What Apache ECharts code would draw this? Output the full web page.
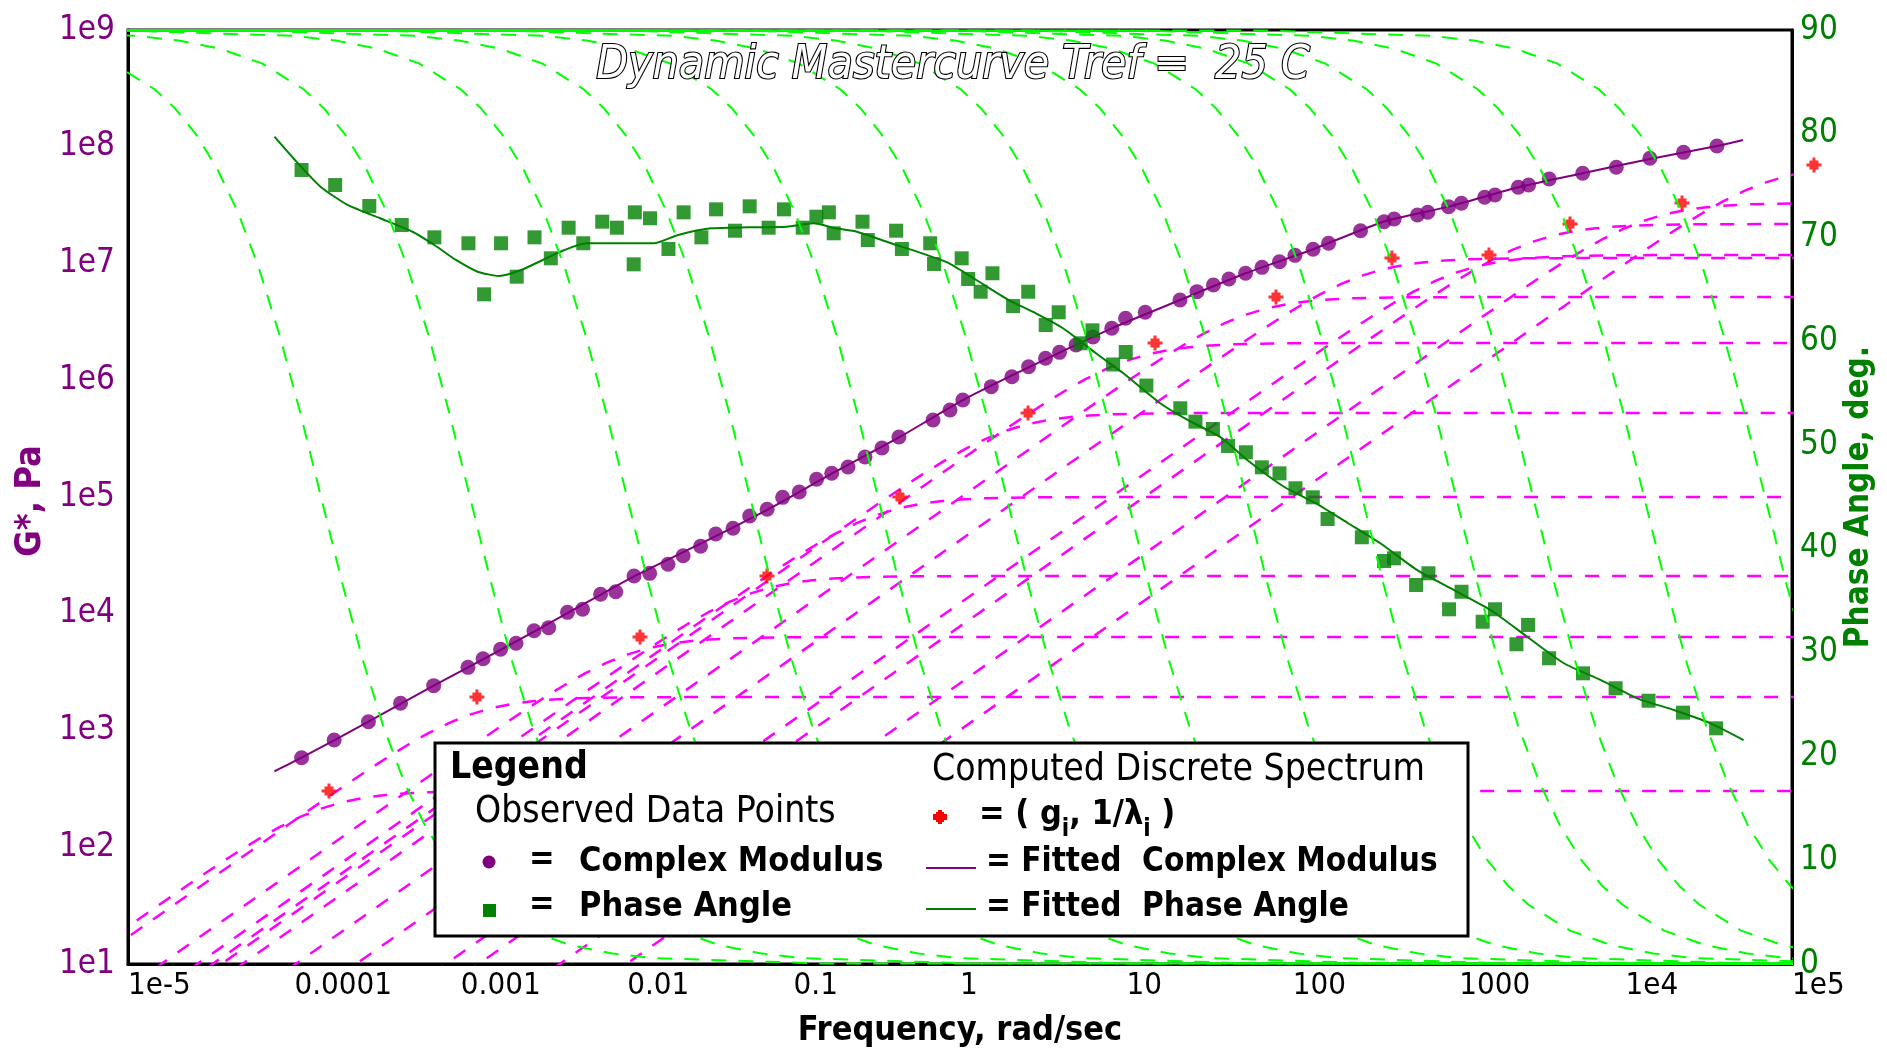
<!DOCTYPE html>
<html>
<head>
<meta charset="utf-8">
<script src="https://cdn.jsdelivr.net/npm/echarts@6/dist/echarts.min.js"></script>
<style>
  html, body { margin: 0; padding: 0; background: #fff; }
  #chart { width: 1887px; height: 1050px; }
</style>
</head>
<body>
<div id="chart"></div>
<script>
const FONT = "'Liberation Sans Narrow','DejaVu Sans Condensed','Arial Narrow','Liberation Sans',sans-serif";

// Axis tick labels
const freqTickLabels = ['1e-5', '0.0001', '0.001', '0.01', '0.1', '1', '10', '100', '1000', '1e4', '1e5'];
const modulusTickLabels = ['1e1', '1e2', '1e3', '1e4', '1e5', '1e6', '1e7', '1e8', '1e9'];

// Observed complex modulus G* (log10 frequency in rad/sec, log10 G* in Pa)
const modulusLogFreq = [-3.957, -3.761, -3.555, -3.362, -3.163, -2.957, -2.866, -2.761, -2.668, -2.560,
  -2.472, -2.359, -2.268, -2.160, -2.069, -1.959, -1.865, -1.755, -1.664, -1.559,
  -1.468, -1.364, -1.264, -1.159, -1.066, -0.966, -0.862, -0.771, -0.673, -0.571,
  -0.469, -0.367, -0.162, -0.060, 0.017, 0.188, 0.312, 0.412, 0.514, 0.598,
  0.697, 0.799, 0.912, 0.995, 1.113, 1.322, 1.424, 1.523, 1.616, 1.716,
  1.815, 1.920, 2.013, 2.122, 2.215, 2.407, 2.548, 2.609, 2.749, 2.811,
  2.936, 3.013, 3.153, 3.215, 3.355, 3.417, 3.541, 3.742, 3.944, 4.146,
  4.348, 4.549];
const modulusLogG = [2.767, 2.919, 3.075, 3.233, 3.384, 3.541, 3.615, 3.696, 3.747, 3.855,
  3.881, 4.012, 4.038, 4.167, 4.189, 4.323, 4.346, 4.424, 4.497, 4.578,
  4.683, 4.732, 4.837, 4.895, 4.997, 5.043, 5.152, 5.203, 5.257, 5.343,
  5.420, 5.514, 5.660, 5.745, 5.831, 5.945, 6.030, 6.116, 6.188, 6.239,
  6.302, 6.371, 6.445, 6.531, 6.582, 6.687, 6.759, 6.816, 6.867, 6.916,
  6.967, 7.015, 7.070, 7.122, 7.173, 7.281, 7.358, 7.381, 7.415, 7.439,
  7.487, 7.516, 7.567, 7.587, 7.653, 7.672, 7.724, 7.773, 7.824, 7.901,
  7.952, 8.006];

// Observed phase angle (log10 frequency, degrees)
const phaseLogFreq = [-3.957, -3.755, -3.550, -3.355, -3.159, -2.954, -2.860, -2.758, -2.664, -2.557,
  -2.459, -2.352, -2.264, -2.150, -2.062, -1.961, -1.954, -1.863, -1.752, -1.661,
  -1.554, -1.466, -1.352, -1.264, -1.150, -1.058, -0.945, -0.863, -0.788, -0.759,
  -0.586, -0.554, -0.384, -0.349, -0.179, -0.156, 0.010, 0.049, 0.124, 0.195,
  0.319, 0.410, 0.515, 0.593, 0.725, 0.796, 0.920, 0.996, 1.120, 1.324,
  1.415, 1.520, 1.611, 1.718, 1.814, 1.920, 2.016, 2.120, 2.209, 2.415,
  2.548, 2.608, 2.741, 2.815, 2.939, 3.014, 3.141, 3.215, 3.344, 3.414,
  3.540, 3.744, 3.940, 4.138, 4.345, 4.544];
const phaseDeg = [76.51, 75.06, 73.04, 71.21, 70.02, 69.45, 64.53, 69.45, 66.23, 70.02,
  68.00, 70.95, 69.45, 71.53, 70.95, 67.42, 72.43, 71.86, 68.90, 72.43,
  70.02, 72.72, 70.66, 73.01, 70.95, 72.72, 70.95, 72.01, 72.43, 70.41,
  71.53, 69.76, 70.66, 68.90, 69.45, 67.45, 68.00, 66.01, 64.78, 66.56,
  63.40, 64.78, 61.57, 62.80, 59.81, 61.06, 57.77, 58.97, 55.74, 53.55,
  52.26, 51.55, 49.91, 49.31, 47.86, 47.28, 45.84, 44.97, 42.88, 41.12,
  38.83, 39.09, 36.52, 37.65, 34.18, 35.87, 32.98, 34.18, 30.81, 32.67,
  29.46, 28.01, 26.57, 25.37, 24.22, 22.71];

// Fitted complex modulus
const fitModLogFreq = [-4.120, -3.957, -3.555, -3.163, -2.761, -2.359, -1.959, -1.559, -1.159, -0.771,
  -0.367, 0.017, 0.412, 0.912, 1.322, 1.716, 2.122, 2.548, 2.936, 3.355,
  3.742, 4.146, 4.549, 4.705];
const fitModLogG = [2.650, 2.767, 3.075, 3.384, 3.690, 4.005, 4.320, 4.600, 4.890, 5.200,
  5.510, 5.830, 6.110, 6.445, 6.687, 6.916, 7.122, 7.360, 7.487, 7.653,
  7.773, 7.895, 8.006, 8.058];

// Fitted phase angle
const fitPhaseLogFreq = [-4.120, -4.006, -3.843, -3.680, -3.485, -3.290, -3.159, -3.029, -2.899, -2.769,
  -2.638, -2.508, -2.377, -2.248, -2.052, -1.840, -1.694, -1.498, -1.270, -1.042,
  -0.879, -0.749, -0.619, -0.423, -0.228, -0.065, 0.098, 0.293, 0.456, 0.619,
  0.817, 0.982, 1.203, 1.368, 1.561, 1.726, 1.947, 2.139, 2.333, 2.526,
  2.746, 2.967, 3.188, 3.408, 3.629, 3.849, 4.070, 4.290, 4.511, 4.709];
const fitPhaseDeg = [79.72, 77.64, 74.90, 73.14, 71.86, 70.56, 69.28, 67.84, 66.71, 66.30,
  66.87, 67.84, 68.80, 69.45, 69.45, 69.45, 70.25, 70.89, 70.99, 71.05,
  71.37, 70.89, 70.56, 69.50, 68.48, 67.52, 65.91, 63.98, 62.70, 61.26,
  58.85, 56.92, 54.03, 52.42, 50.81, 48.57, 45.99, 44.39, 42.47, 40.54,
  37.97, 36.04, 34.11, 31.54, 28.98, 27.37, 25.60, 24.48, 23.19, 21.58];

// Computed discrete spectrum: (g_i, 1/lambda_i), as log10 values
const spectrumLogFreq = [-3.792, -2.903, -1.923, -1.160, -0.361, 0.409, 1.172, 1.899, 2.596, 3.179, 3.666, 4.339, 5.132];
const spectrumLogG = [2.482, 3.287, 3.801, 4.323, 5.000, 5.720, 6.319, 6.713, 7.047, 7.073, 7.338, 7.518, 7.844];
// Corner frequency of each relaxation mode's dashed curves (log10 rad/sec)
const modeLogFreq = [-3.840, -2.945, -2.001, -1.262, -0.493, 0.280, 1.004, 1.719, 2.416, 2.981, 3.444, 4.111, 4.838];

// Shape of one mode's modulus curve: decades from corner -> log10(G_i / g_i)
const modeModulusDecades = [-12, -1, -0.75, -0.625, -0.5, -0.375, -0.25, -0.125, 0, 0.125, 0.25, 0.375, 0.5, 0.625, 0.75, 1, 1.5, 12];
const modeModulusShape = [-12, -1.002, -0.757, -0.637, -0.521, -0.411, -0.310, -0.222, -0.151, -0.097, -0.060, -0.036, -0.021, -0.012, -0.007, -0.002, 0, 0];
// Shape of one mode's phase curve: decades from corner -> degrees
const modePhaseDecades = [-12, -3, -2, -1.75, -1.5, -1.25, -1, -0.875, -0.75, -0.625, -0.5, -0.375, -0.25, -0.125, 0,
  0.125, 0.25, 0.375, 0.5, 0.625, 0.75, 0.875, 1, 1.25, 1.5, 1.75, 2, 3, 12];
const modePhaseShape = [90, 89.94, 89.43, 88.98, 88.19, 86.78, 84.29, 82.41, 79.92, 76.66, 72.46, 67.14, 60.64, 53.14, 45,
  36.86, 29.36, 22.86, 17.54, 13.34, 10.08, 7.59, 5.71, 3.22, 1.81, 1.02, 0.57, 0.06, 0];

const PURPLE = '#800080', GREEN = '#008000', LIME = '#00ff00', MAGENTA = '#ff00ff', RED = '#ff0000';
const pow10 = v => Math.pow(10, v);
const CROSS = 'path://M4 0H6V2H8V4H10V6H8V8H6V10H4V8H2V6H0V4H2V2H4Z';

const series = [];

// Magenta dashed: modulus contribution of each mode
modeLogFreq.forEach((c, i) => {
  series.push({
    type: 'line', xAxisIndex: 0, yAxisIndex: 0, symbol: 'none', silent: true, clip: true,
    lineStyle: { color: MAGENTA, width: 2.5, type: [14, 13] },
    data: modeModulusDecades.map((d, k) => [pow10(c + d), pow10(spectrumLogG[i] + modeModulusShape[k])]),
    z: 2
  });
});

// Discrete spectrum points
series.push({
  type: 'scatter', yAxisIndex: 0, symbol: CROSS, symbolSize: 15, clip: false,
  itemStyle: { color: RED },
  data: spectrumLogFreq.map((f, i) => [pow10(f), pow10(spectrumLogG[i])]),
  z: 3
});

// Fitted complex modulus
series.push({
  type: 'line', yAxisIndex: 0, symbol: 'none', smooth: 0.2,
  lineStyle: { color: PURPLE, width: 2 },
  data: fitModLogFreq.map((f, i) => [pow10(f), pow10(fitModLogG[i])]),
  z: 4
});
// Observed complex modulus
series.push({
  type: 'scatter', yAxisIndex: 0, symbol: 'circle', symbolSize: 15,
  itemStyle: { color: PURPLE },
  data: modulusLogFreq.map((f, i) => [pow10(f), pow10(modulusLogG[i])]),
  z: 5
});
// Fitted phase angle
series.push({
  type: 'line', yAxisIndex: 1, symbol: 'none', smooth: 0.2,
  lineStyle: { color: GREEN, width: 2 },
  data: fitPhaseLogFreq.map((f, i) => [pow10(f), fitPhaseDeg[i]]),
  z: 6
});
// Observed phase angle
series.push({
  type: 'scatter', yAxisIndex: 1, symbol: 'rect', symbolSize: 14,
  itemStyle: { color: GREEN },
  data: phaseLogFreq.map((f, i) => [pow10(f), phaseDeg[i]]),
  z: 7
});

// Lime dashed: phase angle of each mode
modeLogFreq.forEach((c) => {
  series.push({
    type: 'line', xAxisIndex: 0, yAxisIndex: 1, symbol: 'none', silent: true, clip: true,
    lineStyle: { color: LIME, width: 2, type: [15, 12] },
    data: modePhaseDecades.map((d, k) => [pow10(c + d), modePhaseShape[k]]),
    z: 8
  });
});

function txt(x, y, text, font, fill, extra) {
  return {
    type: 'text', x: x, y: y, z: 100,
    style: Object.assign({
      text: text, font: font, fill: fill || '#000',
      textAlign: 'left', textVerticalAlign: 'middle', align: 'left', verticalAlign: 'middle'
    }, extra || {})
  };
}

const legendItems = [
  { type: 'rect', z: 100, shape: { x: 435, y: 743, width: 1033, height: 193 }, style: { fill: '#fff', stroke: '#000', lineWidth: 3 } },
  txt(450, 768, 'Legend', 'bold 37px ' + FONT),
  txt(475, 812, 'Observed Data Points', '37px ' + FONT),
  { type: 'circle', z: 101, shape: { cx: 489, cy: 862, r: 6.5 }, style: { fill: PURPLE } },
  txt(529, 860, '=', 'bold 34px ' + FONT),
  txt(579, 862, 'Complex Modulus', 'bold 34px ' + FONT),
  { type: 'rect', z: 101, shape: { x: 483, y: 904, width: 13, height: 13 }, style: { fill: GREEN } },
  txt(529, 905, '=', 'bold 34px ' + FONT),
  txt(579, 907, 'Phase Angle', 'bold 34px ' + FONT),
  txt(932, 770, 'Computed Discrete Spectrum', '37px ' + FONT),
  { type: 'polygon', z: 101, shape: { points: [[938,810],[942,810],[942,812],[944,812],[944,814],[947,814],[947,820],[944,820],[944,822],[942,822],[942,824],[938,824],[938,822],[936,822],[936,820],[933,820],[933,814],[936,814],[936,812],[938,812]] }, style: { fill: RED } },
  {
    type: 'text', x: 979, y: 815, z: 100,
    style: {
      text: '= ( g{s|i}, 1/λ{s|i} )',
      font: 'bold 34px ' + FONT, fill: '#000',
      textAlign: 'left', textVerticalAlign: 'middle', align: 'left', verticalAlign: 'middle',
      rich: { s: { fontSize: 24, fontWeight: 'bold', fontFamily: FONT, verticalAlign: 'bottom', padding: [0, 0, -10, 0] } }
    }
  },
  { type: 'line', z: 101, shape: { x1: 926, y1: 868, x2: 976, y2: 868 }, style: { stroke: PURPLE, lineWidth: 2 } },
  txt(986, 862, '= Fitted  Complex Modulus', 'bold 33px ' + FONT),
  { type: 'line', z: 101, shape: { x1: 926, y1: 909, x2: 976, y2: 909 }, style: { stroke: GREEN, lineWidth: 2 } },
  txt(986, 907, '= Fitted  Phase Angle', 'bold 33px ' + FONT)
];

const option = {
  animation: false,
  backgroundColor: '#fff',
  grid: { left: 128, right: 95, top: 30, bottom: 86, show: true, borderColor: '#000', borderWidth: 3, backgroundColor: '#fff' },
  xAxis: {
    type: 'log', logBase: 10, min: 1e-5, max: 1e5, interval: 1,
    axisLine: { lineStyle: { color: '#000', width: 3 } },
    axisTick: { show: false }, splitLine: { show: false },
    axisLabel: {
      color: '#000', fontSize: 31, fontFamily: FONT, align: 'left', margin: 6,
      interval: 0, showMinLabel: true, showMaxLabel: true, hideOverlap: false,
      formatter: v => freqTickLabels[Math.round(Math.log10(v)) + 5]
    }
  },
  yAxis: [
    {
      type: 'log', logBase: 10, min: 10, max: 1e9, interval: 1, position: 'left',
      axisLine: { show: true, lineStyle: { color: '#000', width: 3 } },
      axisTick: { show: false }, splitLine: { show: false },
      axisLabel: {
        color: PURPLE, fontSize: 33, fontFamily: FONT, margin: 13,
        verticalAlign: 'middle', padding: [0, 0, 12, 0],
        interval: 0, showMinLabel: true, showMaxLabel: true, hideOverlap: false,
        formatter: v => modulusTickLabels[Math.round(Math.log10(v)) - 1]
      }
    },
    {
      type: 'value', min: 0, max: 90, interval: 10, position: 'right',
      axisLine: { show: true, lineStyle: { color: '#000', width: 3 } },
      axisTick: { show: false }, splitLine: { show: false },
      axisLabel: {
        color: GREEN, fontSize: 33, fontFamily: FONT, margin: 8,
        verticalAlign: 'middle', padding: [0, 0, 10, 0],
        showMinLabel: true, showMaxLabel: true
      }
    }
  ],
  graphic: [
    txt(953, 66, 'Dynamic Mastercurve Tref =  25 C', 'italic 46px ' + FONT, '#fff',
      { textAlign: 'center', align: 'center', stroke: '#000', lineWidth: 2.2 }),
    txt(960, 1031, 'Frequency, rad/sec', 'bold 34px ' + FONT, '#000', { textAlign: 'center', align: 'center' }),
    Object.assign(txt(31, 501, 'G*, Pa', 'bold 36px ' + FONT, PURPLE, { textAlign: 'center', align: 'center' }), { rotation: Math.PI / 2 }),
    Object.assign(txt(1859, 497, 'Phase Angle, deg.', 'bold 33px ' + FONT, GREEN, { textAlign: 'center', align: 'center' }), { rotation: Math.PI / 2 })
  ].concat(legendItems),
  series: series
};

const chart = echarts.init(document.getElementById('chart'), null, { renderer: 'canvas' });
chart.setOption(option);
</script>
</body>
</html>
